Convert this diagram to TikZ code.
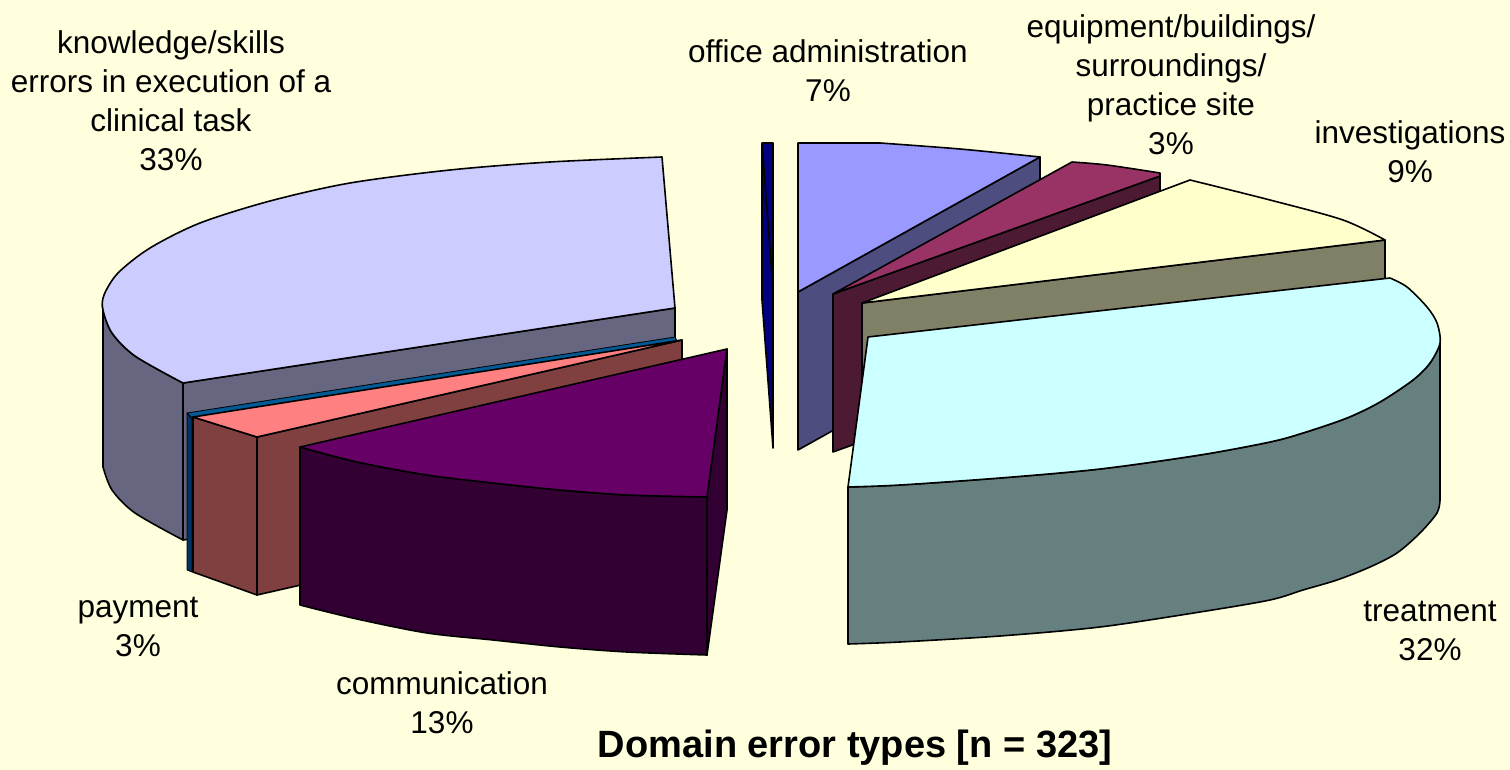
\documentclass[tikz,border=0pt]{standalone}
\usepackage{fontspec}
\setmainfont{Liberation Sans}
\definecolor{bg}{RGB}{255,255,221}
\definecolor{knowT}{RGB}{204,204,255}
\definecolor{knowS}{RGB}{102,102,128}
\definecolor{blueT}{RGB}{0,90,150}
\definecolor{blueS}{RGB}{0,51,102}
\definecolor{pinkT}{RGB}{255,128,128}
\definecolor{pinkS}{RGB}{128,64,64}
\definecolor{commT}{RGB}{102,0,102}
\definecolor{commS}{RGB}{51,0,51}
\definecolor{navyS}{RGB}{0,0,128}
\definecolor{offT}{RGB}{153,153,255}
\definecolor{offS}{RGB}{77,77,128}
\definecolor{eqT}{RGB}{153,51,102}
\definecolor{eqS}{RGB}{77,26,51}
\definecolor{invT}{RGB}{255,255,204}
\definecolor{invS}{RGB}{128,128,102}
\definecolor{trT}{RGB}{204,255,255}
\definecolor{trS}{RGB}{102,128,128}
\begin{document}
\begin{tikzpicture}[x=0.5pt,y=-0.5pt,
  face/.style={draw=black,line width=0.8pt,line join=round},
  thinface/.style={draw=black,line width=0.4pt,line join=round},
  lab/.style={align=center,font=\fontsize{15.75}{19.5}\selectfont,inner sep=0pt}]
\fill[bg] (0,0) rectangle (1510,770);
\useasboundingbox (0,0) rectangle (1510,770);

% navy thin slice
\filldraw[face,fill=navyS] (762,143) -- (773,143) -- (773,448) -- (762,300) -- cycle;
\draw[face] (762,143) -- (773,290);

% office administration
\filldraw[face,fill=offS] (798,292) -- (1040,157) -- (1040,315) -- (798,450) -- cycle;
\filldraw[face,fill=offT] (798,292) -- (798,143) -- (880,143)
  -- plot[smooth] coordinates {(880,143) (960,149) (1040,157)} -- cycle;

% equipment
\filldraw[face,fill=eqS] (833,294) -- (1160,176) -- (1160,334) -- (833,452) -- cycle;
\filldraw[face,fill=eqT] (833,294) -- (1072,162)
  -- plot[smooth] coordinates {(1072,162) (1107,165) (1160,173)} -- (1160,176) -- cycle;

% investigations
\filldraw[face,fill=invS] (862,303) -- (1385,240) -- (1385,398) -- (862,461) -- cycle;
\filldraw[face,fill=invT] (862,303) -- (1190,180)
  -- plot[smooth] coordinates {(1190,180) (1270,200) (1343,220) (1385,240)} -- cycle;

% treatment
\filldraw[face,fill=trS] plot[smooth] coordinates {(848,487) (900,485) (1000,478) (1100,469) (1200,455) (1270,442) (1303,433) (1347,418) (1380,402) (1413,380) (1430,363) (1440,343)}
  -- (1440,500)
  -- plot[smooth] coordinates {(1440,500) (1437,513) (1420,533) (1397,553) (1370,567) (1337,580) (1303,590) (1270,600) (1200,612) (1100,627) (1000,636) (900,642) (848,644)}
  -- cycle;
\filldraw[face,fill=trT] (868,337) -- (1390,278)
  -- plot[smooth] coordinates {(1390,278) (1407,287) (1427,307) (1437,323) (1440,343) (1430,363) (1413,380) (1380,402) (1347,418) (1303,433) (1270,442) (1200,455) (1100,469) (1000,478) (900,485) (848,487)}
  -- cycle;

% knowledge/skills
\filldraw[face,fill=knowS] plot[smooth] coordinates {(103,300) (103,310) (112,333) (135,356) (183,383)}
  -- (183,540)
  -- plot[smooth] coordinates {(183,540) (135,513) (112,490) (103,467)} -- cycle;
\filldraw[face,fill=knowS] (183,383) -- (675,308) -- (675,466) -- (183,540) -- cycle;
\filldraw[face,fill=knowT] (675,308) -- (662,157)
  -- plot[smooth] coordinates {(662,157) (550,162) (450,170) (350,183) (270,201) (200,223) (150,248) (118,273) (104,295) (103,310) (112,333) (135,356) (183,383)}
  -- cycle;

% thin blue slice
\filldraw[thinface,fill=blueS] (187,413) -- (192,418) -- (192,572) -- (187,570) -- cycle;
\filldraw[thinface,fill=blueT] (187,413) -- (675,337) -- (677,341) -- (192,418) -- cycle;

% payment
\filldraw[face,fill=pinkS] (193,417) -- (257,437) -- (257,595) -- (193,572) -- cycle;
\filldraw[face,fill=pinkS] (257,437) -- (682,340) -- (682,498) -- (257,595) -- cycle;
\filldraw[face,fill=pinkT] (193,417) -- (682,340) -- (257,437) -- cycle;

% communication
\filldraw[face,fill=commS] plot[smooth] coordinates {(300,447) (357,462) (427,475) (493,483) (560,490) (627,495) (707,497)}
  -- (707,655)
  -- plot[smooth] coordinates {(707,655) (627,652) (560,647) (493,640) (427,633) (357,619) (300,605)} -- cycle;
\filldraw[face,fill=commS] (707,497) -- (727,349) -- (727,510) -- (707,655) -- cycle;
\filldraw[face,fill=commT] (300,447) -- (727,349) -- (707,497)
  -- plot[smooth] coordinates {(707,497) (627,495) (560,490) (493,483) (427,475) (357,462) (300,447)} -- cycle;

% labels
\node[lab] (lknow) at (171,101) {knowledge/skills\\errors in execution of a\\clinical task\\33\%};
\node[lab] (loff) at (828,71) {office administration\\7\%};
\node[lab] (leq) at (1171,85) {equipment/buildings/\\surroundings/\\practice site\\3\%};
\node[lab] (linv) at (1410,152) {investigations\\9\%};
\node[lab] (ltr) at (1430,631) {treatment\\32\%};
\node[lab] (lpay) at (138,627) {payment\\3\%};
\node[lab] (lcomm) at (442,703) {communication\\13\%};
\node[inner sep=0pt,font=\fontsize{19}{23}\selectfont\bfseries] (title) at (855,748) {Domain error types [n = 323]};
\end{tikzpicture}
\end{document}
